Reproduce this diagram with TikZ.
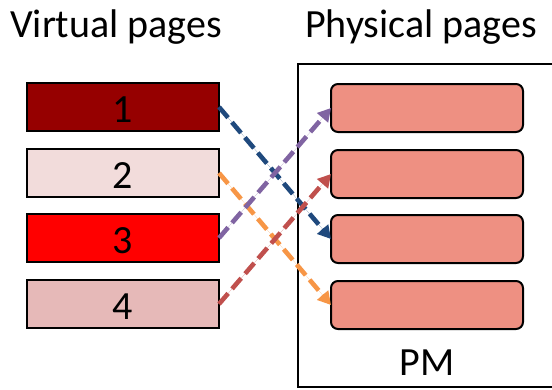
\documentclass[tikz,border=0pt]{standalone}
\usepackage{fontspec}
\setmainfont{Carlito}
\usetikzlibrary{arrows.meta}
\definecolor{vOne}{HTML}{960000}
\definecolor{vTwo}{HTML}{F2DCDB}
\definecolor{vThree}{HTML}{FF0000}
\definecolor{vFour}{HTML}{E6B9B8}
\definecolor{pFill}{HTML}{EE9082}
\definecolor{mapBlue}{HTML}{1F497D}
\definecolor{mapPurple}{HTML}{8064A2}
\definecolor{mapOrange}{HTML}{F79646}
\definecolor{mapRed}{HTML}{C0504D}
\tikzset{
  vpage/.style={draw=black, line width=2pt, minimum width=192pt, minimum height=48pt,
    inner sep=0pt, outer sep=0pt, anchor=north west},
  ppage/.style={draw=black, line width=2pt, fill=pFill, rounded corners=7pt,
    minimum width=192pt, minimum height=48pt, inner sep=0pt, outer sep=0pt, anchor=north west},
  lbl/.style={font=\fontsize{40}{40}\selectfont, inner sep=0pt},
  num/.style={font=\fontsize{40}{40}\selectfont, inner sep=0pt, anchor=base},
  maparrow/.style={line width=4.6pt, dash pattern=on 14pt off 6pt,
    -{Triangle[length=13pt, width=14pt]}}
}
\begin{document}
\begin{tikzpicture}[x=1pt, y=-1pt]
  \useasboundingbox (0,0) rectangle (552,389);

  % titles
  \node[lbl, anchor=base west] (vtitle) at (10,37) {Virtual pages};
  \node[lbl, anchor=base west] (ptitle) at (305,37) {Physical pages};

  % physical memory frame (runs past the right edge)
  \begin{scope}
    \clip (0,0) rectangle (552,389);
    \draw[line width=2pt] (298,64) rectangle (570,387);
  \end{scope}
  \node[lbl, anchor=base] (pm) at (427,375) {PM};

  % virtual pages
  \node[vpage, fill=vOne]   (v1) at (27,83)  {};
  \node[vpage, fill=vTwo]   (v2) at (27,149) {};
  \node[vpage, fill=vThree] (v3) at (27,214) {};
  \node[vpage, fill=vFour]  (v4) at (27,280) {};
  \node[num] at (123,122) {1};
  \node[num] at (123,188) {2};
  \node[num] at (123,253) {3};
  \node[num] at (123,319) {4};

  % physical pages
  \node[ppage] (p1) at (331,84)  {};
  \node[ppage] (p2) at (331,150) {};
  \node[ppage] (p3) at (331,215) {};
  \node[ppage] (p4) at (331,281) {};

  % page mapping
  \draw[maparrow, draw=mapBlue, fill=mapBlue]     (v1.east) -- (p3.west);
  \draw[maparrow, draw=mapOrange, fill=mapOrange] (v2.east) -- (p4.west);
  \draw[maparrow, draw=mapPurple, fill=mapPurple] (v3.east) -- (p1.west);
  \draw[maparrow, draw=mapRed, fill=mapRed]       (v4.east) -- (p2.west);
\end{tikzpicture}
\end{document}
